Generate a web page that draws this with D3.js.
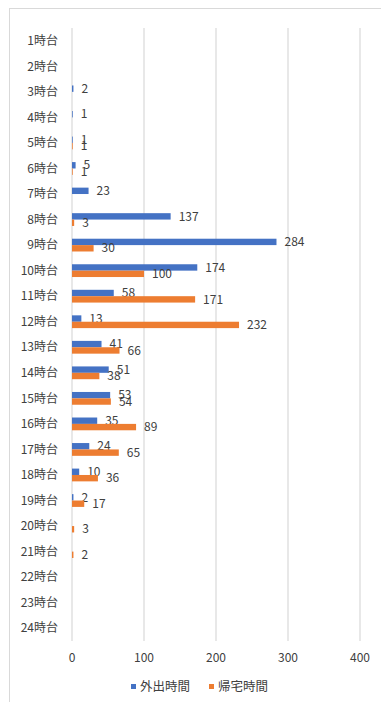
<!DOCTYPE html>
<html>
<head>
<meta charset="utf-8">
<script src="https://cdn.jsdelivr.net/npm/d3@7"></script>
<style>
  html, body { margin: 0; padding: 0; background: #fff; }
  svg { display: block; }
  text { font-family: "Noto Sans CJK JP", "Noto Sans", sans-serif; fill: #404040; }
</style>
</head>
<body>
<svg id="chart" width="381" height="702"></svg>
<script>
// Hour-of-day categories
const hours = ["1時台","2時台","3時台","4時台","5時台","6時台","7時台","8時台","9時台","10時台","11時台","12時台",
               "13時台","14時台","15時台","16時台","17時台","18時台","19時台","20時台","21時台","22時台","23時台","24時台"];
// Counts per hour (null = no entry)
const outing = [null, null, 2, 1, 1, 5, 23, 137, 284, 174, 58, 13, 41, 51, 53, 35, 24, 10, 2, null, null, null, null, null];
const returning = [null, null, null, null, 1, 1, null, 3, 30, 100, 171, 232, 66, 38, 54, 89, 65, 36, 17, 3, 2, null, null, null];
const seriesNames = ["外出時間", "帰宅時間"];
const seriesColors = ["#4472C4", "#ED7D31"];
const xTicks = [0, 100, 200, 300, 400];

const svg = d3.select("#chart");

// chart frame
svg.append("rect")
  .attr("x", 9.5).attr("y", 8.5)
  .attr("width", 420).attr("height", 720)
  .attr("fill", "none").attr("stroke", "#d9d9d9");

const x = d3.scaleLinear().domain([0, 400]).range([72, 360]);
const y = d3.scaleBand().domain(hours).range([28, 641]).paddingInner(0.5).paddingOuter(0.25);
const sub = d3.scaleBand().domain([0, 1]).range([0, y.bandwidth()]);

// vertical gridlines
svg.append("g").selectAll("line").data(xTicks).join("line")
  .attr("x1", d => x(d)).attr("x2", d => x(d))
  .attr("y1", 28).attr("y2", 641)
  .attr("stroke", "#d9d9d9").attr("stroke-width", 1.2);

// x tick labels
svg.append("g").selectAll("text").data(xTicks).join("text")
  .attr("x", d => x(d)).attr("y", 662)
  .attr("text-anchor", "middle")
  .attr("font-size", 12)
  .text(d => d);

// category labels
svg.append("g").selectAll("text").data(hours).join("text")
  .attr("x", 58).attr("y", d => y(d) + y.bandwidth() / 2 + 4.2)
  .attr("text-anchor", "end")
  .attr("font-size", 12)
  .text(d => d);

// bars and value labels
const series = [outing, returning];
series.forEach((vals, si) => {
  const pts = hours.map((h, i) => ({ h, v: vals[i] })).filter(d => d.v !== null);
  const g = svg.append("g");
  g.selectAll("rect").data(pts).join("rect")
    .attr("x", x(0))
    .attr("y", d => y(d.h) + sub(si))
    .attr("width", d => x(d.v) - x(0))
    .attr("height", sub.bandwidth())
    .attr("fill", seriesColors[si]);
  g.selectAll("text").data(pts).join("text")
    .attr("x", d => x(d.v) + 8)
    .attr("y", d => y(d.h) + sub(si) + sub.bandwidth() / 2 + 4.2)
    .attr("font-size", 12)
    .text(d => d.v);
});

// legend
const legendItems = [
  { name: seriesNames[0], color: seriesColors[0], x: 131 },
  { name: seriesNames[1], color: seriesColors[1], x: 209 }
];
const lg = svg.append("g");
legendItems.forEach(it => {
  lg.append("rect").attr("x", it.x).attr("y", 684).attr("width", 5).attr("height", 5).attr("fill", it.color);
  lg.append("text").attr("x", it.x + 9).attr("y", 690.5).attr("font-size", 12.5).text(it.name);
});
</script>
</body>
</html>
